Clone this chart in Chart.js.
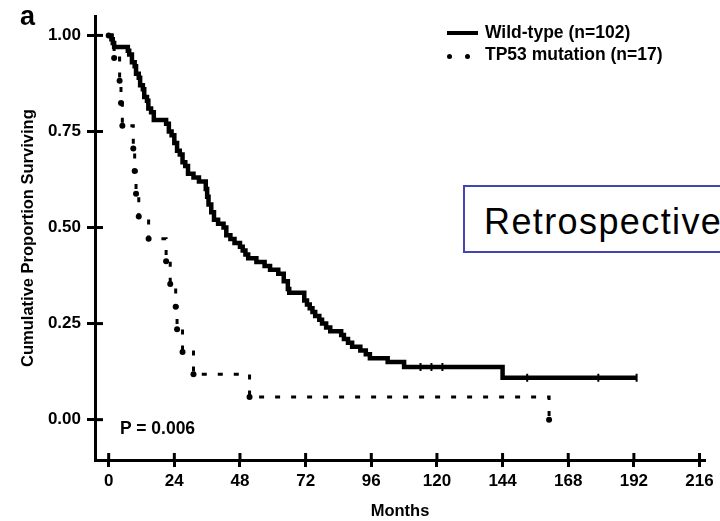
<!DOCTYPE html>
<html>
<head>
<meta charset="utf-8">
<script src="https://cdn.jsdelivr.net/npm/chart.js@4.4.1/dist/chart.umd.min.js"></script>
<style>
html, body { margin: 0; padding: 0; background: #fff; overflow: hidden; }
#wrap { position: relative; width: 720px; height: 521px; font-family: "Liberation Sans", Arial, sans-serif; overflow: hidden; }
#wrap canvas { position: absolute; left: 0; top: 0; }
.lbl { position: absolute; font-weight: bold; color: #000; white-space: nowrap; line-height: 1; }
.dot { position: absolute; width: 5px; height: 5px; border-radius: 50%; background: #000; }
#retro { position: absolute; left: 463px; top: 185px; width: 420px; height: 68px; box-sizing: border-box; border: 2px solid #4444b2; background: #fff; }
#retro span { position: absolute; left: 19px; top: 17px; font-size: 36px; letter-spacing: 1.4px; line-height: 1; color: #000; white-space: nowrap; }
</style>
</head>
<body>
<div id="wrap">
  <canvas id="km"></canvas>
  <div class="lbl" style="left:20px; top:3px; font-size:27px;">a</div>
  <div style="position:absolute; left:447px; top:31px; width:31px; height:4px; background:#000;"></div>
  <div class="lbl" style="left:485px; top:24px; font-size:17.5px;">Wild-type (n=102)</div>
  <div class="dot" style="left:447px; top:54px;"></div>
  <div class="dot" style="left:465px; top:54px;"></div>
  <div class="lbl" style="left:485px; top:46px; font-size:17.5px;">TP53 mutation (n=17)</div>
  <div class="lbl" style="left:120px; top:420px; font-size:17.5px;">P = 0.006</div>
  <div id="retro"><span>Retrospective</span></div>
</div>
<script>
// survival (months, proportion)
const wildMonths = [0, 1, 1.5, 2, 7, 7.5, 8.5, 9.5, 10, 11, 11.5, 12.5, 13, 14, 14.5, 15.5, 16.5,
  21, 22, 23, 24, 25, 26, 27, 28, 29, 31, 33, 35.5, 36, 36.5, 37.5, 38.5, 40, 42, 43, 44.5, 46,
  48, 49, 50, 51, 54, 57, 59, 62, 64, 65.5, 66, 71.5, 72.5, 73.5, 74.5, 75.5, 77, 78, 79.5, 81,
  85, 86, 87.5, 89, 92, 94, 95.5, 102, 108, 144, 193];
const wildSurvival = [1.00, 0.99, 0.98, 0.97, 0.96, 0.95, 0.93, 0.92, 0.90, 0.89, 0.87, 0.86, 0.84, 0.83, 0.81, 0.80, 0.78,
  0.77, 0.75, 0.74, 0.72, 0.70, 0.69, 0.67, 0.66, 0.64, 0.63, 0.62, 0.60, 0.58, 0.56, 0.54, 0.52, 0.51, 0.50, 0.48, 0.47, 0.46,
  0.45, 0.44, 0.43, 0.42, 0.41, 0.40, 0.39, 0.38, 0.36, 0.34, 0.33, 0.31, 0.30, 0.29, 0.28, 0.27, 0.26, 0.25, 0.24, 0.23,
  0.22, 0.21, 0.20, 0.19, 0.18, 0.17, 0.16, 0.15, 0.137, 0.109, 0.109];
const wildCensorMonths = [114, 118, 122, 153, 179, 193];
const wildCensorSurvival = [0.137, 0.137, 0.137, 0.109, 0.109, 0.109];

const mutMonths = [0, 2, 4, 4.5, 5, 9, 9.5, 10, 11, 14.6, 21, 22.5, 24.5, 25, 27, 31, 51.5, 161];
const mutSurvival = [1.0, 0.941, 0.882, 0.824, 0.765, 0.706, 0.647, 0.588, 0.529, 0.471, 0.412, 0.353, 0.294, 0.235, 0.176, 0.118, 0.059, 0];

const xTicks = [0, 24, 48, 72, 96, 120, 144, 168, 192, 216];
const yTicks = [0, 0.25, 0.5, 0.75, 1];

function toPoints(xs, ys) {
  return xs.map(function (x, i) { return { x: x, y: ys[i] }; });
}

var fontFam = '"Liberation Sans", Arial, sans-serif';

// tick marks that cross the axis line
const crossTicks = {
  id: 'crossTicks',
  afterDraw: function (chart) {
    var ctx = chart.ctx, a = chart.chartArea;
    var xs = chart.scales.x, ys = chart.scales.y;
    ctx.save();
    ctx.strokeStyle = '#000';
    ctx.lineWidth = 3;
    xs.ticks.forEach(function (t) {
      var px = xs.getPixelForValue(t.value);
      ctx.beginPath(); ctx.moveTo(px, a.bottom); ctx.lineTo(px, a.bottom - 7); ctx.stroke();
    });
    ys.ticks.forEach(function (t) {
      var py = ys.getPixelForValue(t.value);
      ctx.beginPath(); ctx.moveTo(a.left, py); ctx.lineTo(a.left + 8, py); ctx.stroke();
    });
    ctx.restore();
  }
};

var ctx = document.getElementById('km').getContext('2d');
new Chart(ctx, {
  type: 'line',
  data: {
    datasets: [
      {
        label: 'Wild-type (n=102)',
        data: toPoints(wildMonths, wildSurvival),
        stepped: true,
        borderColor: '#000',
        borderWidth: 4.5,
        pointRadius: 0,
        fill: false
      },
      {
        label: 'censored',
        data: toPoints(wildCensorMonths, wildCensorSurvival),
        showLine: false,
        pointStyle: 'line',
        rotation: 90,
        pointRadius: 4,
        pointBorderWidth: 2,
        borderColor: '#000'
      },
      {
        label: 'TP53 mutation (n=17)',
        data: toPoints(mutMonths, mutSurvival),
        stepped: true,
        borderColor: '#000',
        borderWidth: 3,
        borderDash: [5, 11],
        pointRadius: 3,
        pointBorderWidth: 0,
        pointBackgroundColor: '#000',
        fill: false
      }
    ]
  },
  options: {
    responsive: true,
    maintainAspectRatio: false,
    animation: false,
    layout: { padding: { top: 10, right: 15, bottom: 0, left: 0 } },
    plugins: {
      legend: { display: false },
      tooltip: { enabled: false }
    },
    scales: {
      x: {
        type: 'linear',
        min: -5,
        max: 218,
        afterBuildTicks: function (axis) { axis.ticks = xTicks.map(function (v) { return { value: v }; }); },
        afterFit: function (scale) { scale.height = 61; },
        border: { color: '#000', width: 3 },
        grid: { drawOnChartArea: false, color: '#000', tickLength: 7, tickWidth: 3 },
        ticks: { color: '#000', padding: 4, maxRotation: 0, font: { family: fontFam, size: 17, weight: 'bold' } },
        title: { display: true, text: 'Months', color: '#000', padding: { top: 0, bottom: 0 },
                 font: { family: fontFam, size: 16.5, weight: 'bold' } }
      },
      y: {
        min: -0.105,
        max: 1.05,
        afterBuildTicks: function (axis) { axis.ticks = yTicks.map(function (v) { return { value: v }; }); },
        afterFit: function (scale) { scale.width = 95; },
        border: { color: '#000', width: 3 },
        grid: { drawOnChartArea: false, color: '#000', tickLength: 8, tickWidth: 3 },
        ticks: { color: '#000', padding: 6, font: { family: fontFam, size: 17, weight: 'bold' },
                 callback: function (v) { return Number(v).toFixed(2); } },
        title: { display: true, text: 'Cumulative Proportion Surviving', color: '#000', padding: { top: 19, bottom: 0 },
                 font: { family: fontFam, size: 16.5, weight: 'bold' } }
      }
    }
  },
  plugins: [crossTicks]
});
</script>
</body>
</html>
